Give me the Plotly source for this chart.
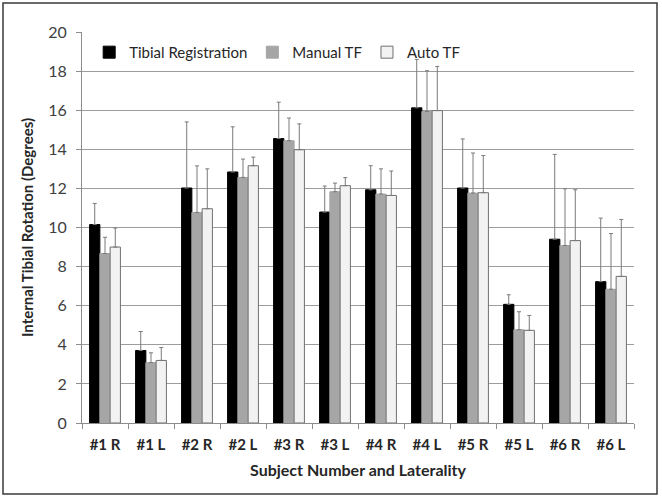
import plotly.graph_objects as go

# subjects / laterality
categories = ["#1 R", "#1 L", "#2 R", "#2 L", "#3 R", "#3 L",
              "#4 R", "#4 L", "#5 R", "#5 L", "#6 R", "#6 L"]

# mean internal tibial rotation (degrees)
tibial_reg = [10.15, 3.71, 12.02, 12.84, 14.55, 10.79, 11.93, 16.12, 12.02, 6.07, 9.40, 7.23]
manual_tf = [8.67, 3.09, 10.77, 12.56, 14.44, 11.83, 11.71, 15.93, 11.76, 4.77, 9.08, 6.84]
auto_tf = [9.00, 3.20, 10.96, 13.16, 13.98, 12.14, 11.64, 15.98, 11.78, 4.74, 9.33, 7.50]

# top of the (upward only) error bars
tibial_reg_top = [11.23, 4.68, 15.40, 15.15, 16.41, 12.12, 13.16, 18.60, 14.53, 6.56, 13.74, 10.48]
manual_tf_top = [9.50, 3.59, 13.15, 13.50, 15.60, 12.27, 13.00, 18.02, 13.81, 5.69, 11.98, 9.69]
auto_tf_top = [9.97, 3.86, 13.00, 13.60, 15.30, 12.55, 12.89, 18.24, 13.68, 5.50, 11.93, 10.41]

series = [
    ("Tibial Registration", tibial_reg, tibial_reg_top, "#000000", "#000000"),
    ("Manual TF", manual_tf, manual_tf_top, "#a6a6a6", "#a6a6a6"),
    ("Auto TF", auto_tf, auto_tf_top, "#f2f2f2", "#6f6f6f"),
]

fig = go.Figure()
for name, vals, tops, fill, edge in series:
    plus = [t - v for t, v in zip(tops, vals)]
    fig.add_trace(go.Bar(
        x=categories, y=vals, name=name,
        marker=dict(color=fill, line=dict(color=edge, width=1)),
        error_y=dict(type="data", symmetric=False, array=plus,
                     arrayminus=[0] * len(vals),
                     color="#7a7a7a", thickness=1, width=2),
    ))

fig.update_layout(
    width=662, height=500,
    margin=dict(l=82, r=28, t=32, b=77),
    paper_bgcolor="white", plot_bgcolor="white",
    barmode="group", bargap=0.33, bargroupgap=0,
    font=dict(family="Lato, Liberation Sans, sans-serif", size=14, color="#262626"),
    legend=dict(orientation="h", x=0.013, y=0.99, xanchor="left", yanchor="top",
                font=dict(size=15), bgcolor="rgba(0,0,0,0)",
                itemwidth=30, traceorder="normal"),
    showlegend=True,
)

fig.update_xaxes(
    automargin=False,
    showline=True, linecolor="#8c8c8c", linewidth=1,
    ticks="outside", tickson="boundaries", ticklen=5, tickcolor="#8c8c8c",
    tickfont=dict(size=15, weight="bold"), ticklabelstandoff=8,
    title=dict(text="<b>Subject Number and Laterality</b>", font=dict(size=16), standoff=12),
)
fig.update_yaxes(
    automargin=False,
    range=[0, 20], dtick=2,
    showline=True, linecolor="#8c8c8c", linewidth=1,
    showgrid=True, gridcolor="#9c9c9c", gridwidth=1,
    ticks="outside", ticklen=5, tickcolor="#8c8c8c",
    tickfont=dict(size=16, color="#404040"), ticklabelstandoff=6,
    zeroline=False,
    title=dict(text="<b>Internal Tibial Rotation (Degrees)</b>", font=dict(size=15), standoff=10),
)

# outer frame around the chart
fig.add_shape(type="rect", xref="paper", yref="paper",
              x0=-79 / 552, x1=575 / 552, y0=-71 / 391, y1=420 / 391,
              line=dict(color="#3a3a3a", width=1.5), fillcolor="rgba(0,0,0,0)",
              layer="below")

# drop the default page margin so the chart sits at the window origin
fig.write_html("out.html", config={"displayModeBar": False},
               post_script="document.body.style.margin='0';")
